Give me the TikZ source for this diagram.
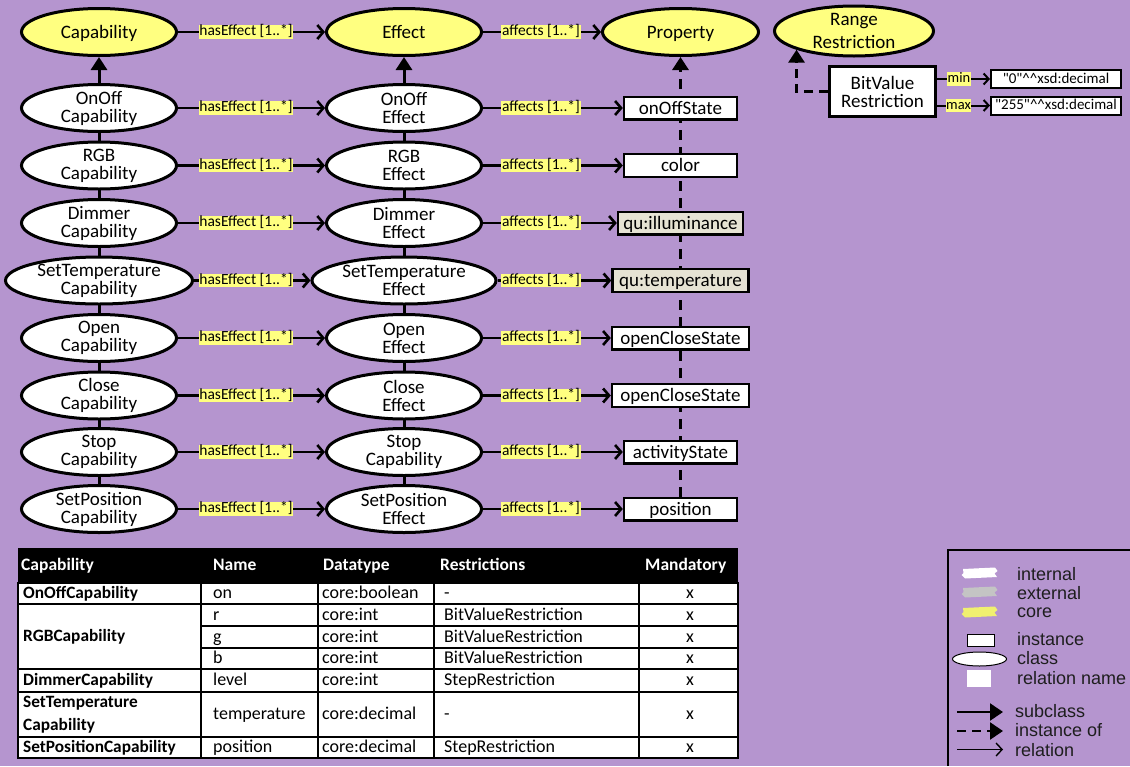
\documentclass[tikz,border=0pt]{standalone}
\usepackage{fontspec}
\setmainfont{Carlito}
\newfontfamily\legendfont{Liberation Sans}
\usetikzlibrary{shapes.geometric,arrows.meta,calc}
\pgfdeclarelayer{back}
\pgfdeclarelayer{lines}
\pgfsetlayers{back,lines,main}
\definecolor{bgpurple}{RGB}{181,149,207}
\definecolor{coreyellow}{RGB}{255,255,128}
\definecolor{extgray}{RGB}{230,227,211}
\definecolor{brushgray}{RGB}{196,196,196}
\definecolor{brushyellow}{RGB}{240,240,112}
\definecolor{legendtext}{RGB}{30,30,30}

\begin{document}
\begin{tikzpicture}[x=1pt,y=-1pt,
  cls/.style={ellipse,draw=black,line width=3pt,fill=white,minimum width=155pt,minimum height=47pt,inner sep=0pt},
  corecls/.style={cls,fill=coreyellow},
  etxt/.style={align=center,inner sep=0pt,font=\fontsize{19}{18}\selectfont},
  etxt1/.style={inner sep=0pt,text height=15pt,text depth=3pt,font=\fontsize{19}{18}\selectfont},
  inst/.style={rectangle,draw=black,line width=2.4pt,fill=white,minimum height=22.6pt,inner sep=0pt,
               text height=15pt,text depth=2.5pt,font=\fontsize{19}{18}\selectfont},
  lbl/.style={fill=coreyellow,inner sep=0.6pt,text height=10pt,text depth=2.5pt,font=\fontsize{15.5}{15.5}\selectfont},
  rel/.style={line width=2.6pt,-{Straight Barb[length=6pt,width=14pt]}},
  relthin/.style={line width=2pt,-{Straight Barb[length=5pt,width=11pt]}},
  sub/.style={line width=3pt,-{Triangle[length=13pt,width=16pt]}},
  instof/.style={sub,dash pattern=on 10pt off 7pt},
  th/.style={anchor=west,inner sep=0pt,text=white,text height=12.5pt,text depth=2.5pt,font=\bfseries\fontsize{17.5}{17.5}\selectfont},
  tc/.style={anchor=west,inner sep=0pt,text height=12.5pt,text depth=2.5pt,font=\fontsize{18}{18}\selectfont},
  tcb/.style={tc,font=\bfseries\fontsize{17.3}{17.3}\selectfont},
  tx/.style={tc,anchor=center},
  lgtxt/.style={anchor=west,inner sep=0pt,text=legendtext,font=\legendfont\fontsize{18}{18}\selectfont}
]
\useasboundingbox (0,0) rectangle (1130,766);
\begin{pgfonlayer}{back}
  \fill[bgpurple] (0,0) rectangle (1130,766);
\end{pgfonlayer}

% core classes
\node[corecls, label={[etxt1]center:Capability}] (c0) at (99,32) {};
\node[corecls, label={[etxt1]center:Effect}] (e0) at (404,32) {};
\node[corecls, minimum width=156pt, label={[etxt1]center:Property}] (p0) at (680.5,32) {};
\node[corecls, minimum width=159pt, minimum height=50pt,
      label={[etxt,font=\fontsize{19}{23}\selectfont]center:Range\\Restriction}] (rr) at (854,31) {};
\draw[rel] (c0) -- (e0);
\draw[rel] (e0) -- (p0);
\node[lbl] (h0) at (246,32) {hasEffect [1..*]};
\node[lbl] (a0) at (541,32) {affects [1..*]};

% capability / effect / property rows
\foreach \k/\y/\cn/\eb/\pn/\pw/\pf/\cw/\ew in {
  1/108/OnOff/Effect/onOffState/113/white/155/155,
  2/165.5/RGB/Effect/color/113/white/155/155,
  3/223/Dimmer/Effect/qu:illuminance/125/extgray/155/155,
  4/280.5/SetTemperature/Effect/qu:temperature/136/extgray/187/184,
  5/338/Open/Effect/openCloseState/137/white/155/155,
  6/395.5/Close/Effect/openCloseState/137/white/155/155,
  7/452/Stop/Capability/activityState/113/white/155/155,
  8/509/SetPosition/Effect/position/113/white/155/155}
{
  \node[cls, minimum width=\cw pt, label={[etxt]center:\cn\\Capability}] (c\k) at (99,\y) {};
  \node[cls, minimum width=\ew pt, label={[etxt]center:\cn\\\eb}] (e\k) at (404,\y) {};
  \node[inst, fill=\pf, minimum width=\pw pt] (p\k) at (680.5,\y) {\pn};
  \draw[rel] (c\k) -- (e\k);
  \draw[rel] (e\k) -- (p\k);
  \node[lbl] (h\k) at (246,\y) {hasEffect [1..*]};
  \node[lbl] (a\k) at (541,\y) {affects [1..*]};
}

% subclass and instance-of chains
\begin{pgfonlayer}{lines}
  \draw[sub] (c8) -- (c0);
  \draw[sub] (e8) -- (e0);
  \draw[instof] (p8) -- (p0);
\end{pgfonlayer}

% bit value restriction instance
\node[inst, line width=3pt, minimum width=106pt, minimum height=50pt, align=center,
      text height=, text depth=, font=\fontsize{19}{18}\selectfont] (bv) at (882.5,91.5) {BitValue\\Restriction};
\node[inst, line width=2pt, minimum width=130pt, minimum height=18pt, text height=11pt, text depth=3pt,
      font=\fontsize{15}{15}\selectfont] (v1) at (1056,79)
  {\textquotedbl 0\textquotedbl\textasciicircum\textasciicircum xsd:decimal};
\node[inst, line width=2pt, minimum width=130pt, minimum height=18pt, text height=11pt, text depth=3pt,
      font=\fontsize{15}{15}\selectfont] (v2) at (1056,105.5)
  {\textquotedbl 255\textquotedbl\textasciicircum\textasciicircum xsd:decimal};
\draw[relthin] (v1 -| bv.east) -- (v1);
\draw[relthin] (v2 -| bv.east) -- (v2);
\node[lbl, font=\fontsize{14.5}{14.5}\selectfont] (lmin) at (959,79) {min};
\node[lbl, font=\fontsize{14.5}{14.5}\selectfont] (lmax) at (958.5,105.5) {max};
\draw[instof, dash pattern=on 9pt off 6pt] (bv.west) -| (rr.198);

% property table
\fill[white] (18,583) rectangle (738,758);
\fill[black] (18,548) rectangle (738,583);
\begin{scope}[line width=1.6pt]
  \draw (18,583) rectangle (738,758);
  \draw (18,604) -- (738,604);
  \draw (201,626) -- (738,626);
  \draw (201,648) -- (738,648);
  \draw (18,669) -- (738,669);
  \draw (18,692) -- (738,692);
  \draw (18,737) -- (738,737);
  \foreach \cx in {201,318,434,639} \draw (\cx,583) -- (\cx,758);
\end{scope}
\node[th] (th1) at (21,565) {Capability};
\node[th] (th2) at (213,565) {Name};
\node[th] (th3) at (323,565) {Datatype};
\node[th] (th4) at (440,565) {Restrictions};
\node[th] (th5) at (645,565) {Mandatory};

\node[tcb] (tr1) at (23,593.5) {OnOffCapability};
\node[tcb] (tr2) at (23,636.5) {RGBCapability};
\node[tcb] (tr3) at (23,680.5) {DimmerCapability};
\node[anchor=west,inner sep=0pt,align=left,font=\bfseries\fontsize{17.3}{23}\selectfont] (tr4) at (23,715) {SetTemperature\\Capability};
\node[tcb] (tr5) at (23,747.5) {SetPositionCapability};

\foreach \n/\y/\nm/\dt/\rs in {
  1/593.5/on/core:boolean/-,
  2/615/r/core:int/BitValueRestriction,
  3/637/g/core:int/BitValueRestriction,
  4/658.5/b/core:int/BitValueRestriction,
  5/680.5/level/core:int/StepRestriction,
  6/714.5/temperature/core:decimal/-,
  7/747.5/position/core:decimal/StepRestriction}
{
  \node[tc] (tn\n) at (213,\y) {\nm};
  \node[tc] (td\n) at (322,\y) {\dt};
  \node[tc] (ts\n) at (444,\y) {\rs};
  \node[tx] (tm\n) at (690,\y) {x};
}

% legend
\draw[line width=2.5pt] (948,766) -- (948,550) -- (1130,550);
\fill[white] (963,569) -- (995,567.5) -- (997.5,571) -- (994.5,573.5) -- (997,577) -- (965,578.5) -- (961.5,575) -- (963.5,573) -- cycle;
\fill[brushgray] (963,588) -- (995,586.5) -- (997.5,590) -- (994.5,592.5) -- (997,596) -- (965,597.5) -- (961.5,594) -- (963.5,592) -- cycle;
\fill[brushyellow] (963,608) -- (995,606.5) -- (997.5,610) -- (994.5,612.5) -- (997,616) -- (965,617.5) -- (961.5,614) -- (963.5,612) -- cycle;
\node[lgtxt] (lg1) at (1017,574) {internal};
\node[lgtxt] (lg2) at (1017,593) {external};
\node[lgtxt] (lg3) at (1017,613) {core};
\node[draw=black, fill=white, line width=1pt, minimum width=27pt, minimum height=12pt, inner sep=0pt] (lgi) at (980.5,640) {};
\node[ellipse, draw=black, fill=white, line width=1pt, minimum width=54pt, minimum height=14pt, inner sep=0pt] (lgc) at (979.5,659) {};
\node[fill=white, minimum width=24pt, minimum height=17pt, inner sep=0pt] (lgr) at (979,678.5) {};
\node[lgtxt] (lg4) at (1017,639) {instance};
\node[lgtxt] (lg5) at (1017,658) {class};
\node[lgtxt] (lg6) at (1017,678) {relation name};
\coordinate (ls1) at (957,712); \coordinate (le1) at (1003,712);
\coordinate (ls2) at (957,731); \coordinate (le2) at (1003,731);
\coordinate (ls3) at (957,749.5); \coordinate (le3) at (1003,749.5);
\draw[line width=2.4pt, -{Triangle[length=13pt,width=17pt]}] (ls1) -- (le1);
\draw[line width=2.4pt, dash pattern=on 9pt off 6pt, -{Triangle[length=13pt,width=17pt]}] (ls2) -- (le2);
\draw[line width=1.4pt, -{Straight Barb[length=6pt,width=13pt]}] (ls3) -- (le3);
\node[lgtxt] (lg7) at (1015,711) {subclass};
\node[lgtxt] (lg8) at (1015,730) {instance of};
\node[lgtxt] (lg9) at (1015,750) {relation};
\end{tikzpicture}
\end{document}
